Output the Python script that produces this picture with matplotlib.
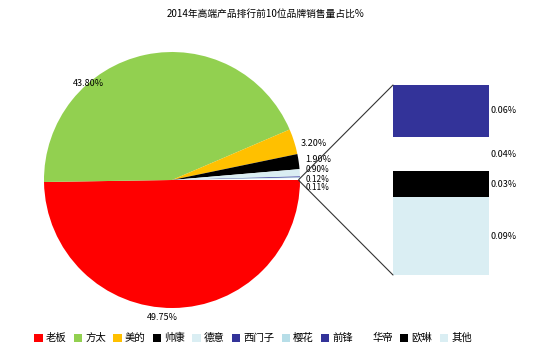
import matplotlib
matplotlib.use("Agg")
import matplotlib.pyplot as plt
from matplotlib.patches import ConnectionPatch, Patch

plt.rcParams['font.family'] = ['Noto Sans CJK SC', 'DejaVu Sans']

# main pie data (last slice = combined "other" shown in the bar)
pie_names = ['老板', '方太', '美的', '帅康', '德意', '西门子', '樱花']
pie_vals = [49.75, 43.80, 3.20, 1.90, 0.90, 0.12, 0.11]
pie_colors = ['#FF0000', '#92D050', '#FFC000', '#000000', '#DAEEF3', '#333399', '#B7DEE8']

# secondary bar data (top to bottom)
bar_names = ['前锋', '华帝', '欧琳', '其他']
bar_vals = [0.06, 0.04, 0.03, 0.09]
bar_colors = ['#333399', '#FFFFFF', '#000000', '#DAEEF3']

W, H = 550, 352
fig = plt.figure(figsize=(5.5, 3.52), dpi=100)

def px_axes(x0, y0, x1, y1):
    return fig.add_axes([x0 / W, (H - y1) / H, (x1 - x0) / W, (y1 - y0) / H])

# pie
ax = px_axes(44, 52, 300, 308)
vals = pie_vals + [sum(bar_vals)]
cols = pie_colors + ['#FFFFFF']
wedges, _ = ax.pie(vals, colors=cols, startangle=0, counterclock=False, radius=1)
ax.set_xlim(-1, 1)
ax.set_ylim(-1, 1)
ax.set_aspect('equal')
ax.axis('off')

# pie labels (pixel positions; the small ones crowd together)
label_px = [(162, 317), (88, 83), (314, 143), (318, 160), (318, 170), (318, 179), (318, 188)]
for i, (v, (px, py)) in enumerate(zip(pie_vals, label_px)):
    ax.text((px - 172) / 128, (180 - py) / 128, f'{v:.2f}%', fontsize=6.5 if i < 4 else 6,
            ha='center', va='center', clip_on=False)

# bar of the combined slice
bx = px_axes(393, 85, 489, 275)
bottom = 0
for name, v, c in zip(bar_names[::-1], bar_vals[::-1], bar_colors[::-1]):
    bx.bar(0, v, width=1, bottom=bottom, color=c, edgecolor='none')
    bx.text(0.52, bottom + v / 2, f'{v:.2f}%', fontsize=6.5, ha='left', va='center',
            clip_on=False)
    bottom += v
bx.set_xlim(-0.5, 0.5)
bx.set_ylim(0, sum(bar_vals))
bx.axis('off')

# connector lines
for yb in (sum(bar_vals), 0):
    con = ConnectionPatch(xyA=(0.99, 0.003 if yb else -0.003), coordsA=ax.transData,
                          xyB=(-0.5, yb), coordsB=bx.transData,
                          color='#333333', lw=0.8)
    fig.add_artist(con)

fig.text(266 / W, 1 - 14 / H, '2014年高端产品排行前10位品牌销售量占比%',
         fontsize=7, ha='center', va='center')

handles = [Patch(facecolor=c, edgecolor='none') for c in pie_colors + bar_colors]
fig.legend(handles, pie_names + bar_names, loc='center', bbox_to_anchor=(0.46, 1 - 338 / H),
           ncol=11, frameon=False, fontsize=7.5, handlelength=0.8, handleheight=0.8,
           handletextpad=0.3, columnspacing=0.7)

fig.savefig('out.png', dpi=100)
